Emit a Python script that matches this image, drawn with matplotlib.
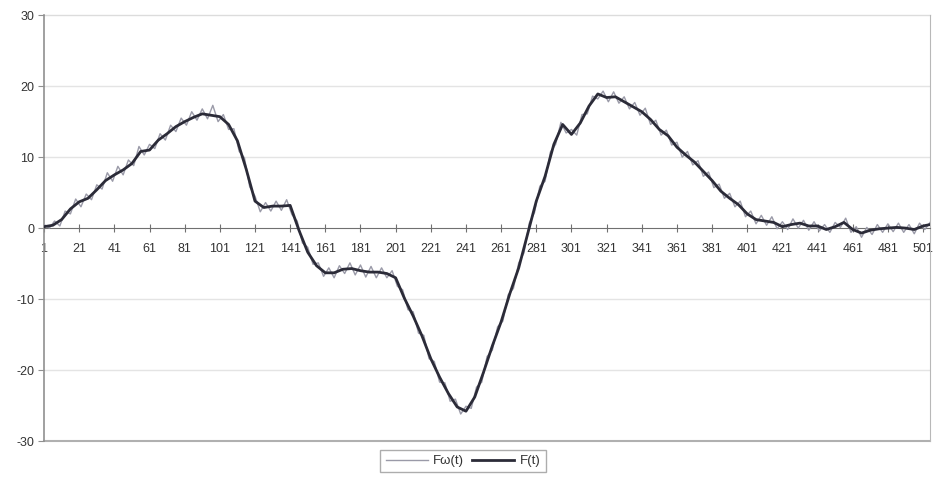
import matplotlib
matplotlib.use("Agg")
import matplotlib.pyplot as plt

# smooth signal F(t), read every 5 samples
t_f = [1, 6, 11, 16, 21, 26, 31, 36, 41, 46, 51, 56, 61, 66, 71, 76, 81, 86, 91, 96,
       101, 106, 111, 116, 121, 126, 131, 136, 141, 146, 151, 156, 161, 166, 171, 176,
       181, 186, 191, 196, 201, 206, 211, 216, 221, 226, 231, 236, 241, 246, 251, 256,
       261, 266, 271, 276, 281, 286, 291, 296, 301, 306, 311, 316, 321, 326, 331, 336,
       341, 346, 351, 356, 361, 366, 371, 376, 381, 386, 391, 396, 401, 406, 411, 416,
       421, 426, 431, 436, 441, 446, 451, 456, 461, 466, 471, 476, 481, 486, 491, 496,
       501, 505]
f_vals = [0.2, 0.4, 1.2, 2.7, 3.7, 4.2, 5.4, 6.7, 7.5, 8.2, 9.1, 10.8, 11.0, 12.4, 13.3,
          14.3, 15.0, 15.6, 16.1, 15.9, 15.7, 14.6, 12.3, 8.3, 3.8, 2.9, 3.1, 3.1, 3.2,
          -0.3, -3.4, -5.3, -6.3, -6.3, -5.8, -5.7, -6.0, -6.2, -6.2, -6.4, -7.0, -9.9,
          -12.4, -15.2, -18.4, -21.0, -23.3, -25.2, -25.8, -23.8, -20.3, -16.6, -13.2,
          -9.2, -5.6, -0.9, 3.8, 7.3, 11.8, 14.6, 13.2, 14.8, 17.2, 18.9, 18.4, 18.5,
          17.8, 17.1, 16.4, 15.3, 13.9, 13.0, 11.4, 10.3, 9.3, 8.0, 6.7, 5.2, 4.2, 3.3,
          2.0, 1.2, 1.0, 0.8, 0.2, 0.5, 0.7, 0.3, 0.3, -0.2, 0.2, 0.8, -0.2, -0.7, -0.3,
          -0.1, 0.0, 0.1, 0.0, -0.2, 0.3, 0.5]

# noisy signal Fw(t), read every 3 samples
t_fw = list(range(1, 506, 3))
fw_vals = [0.5, 0.0, 1.0, 0.3, 2.4, 2.0, 4.1, 3.0, 4.8, 4.0, 6.1, 5.5, 7.8, 6.6, 8.7,
           7.5, 9.6, 8.8, 11.5, 10.3, 11.8, 11.2, 13.3, 12.4, 14.5, 13.6, 15.5, 14.5,
           16.4, 15.2, 16.8, 15.4, 17.3, 15.0, 16.0, 13.9, 14.0, 10.8, 9.9, 5.8, 4.5,
           2.3, 3.6, 2.4, 3.8, 2.5, 4.0, 1.9, 1.0, -2.1, -2.7, -5.1, -4.9, -6.8, -5.6,
           -7.0, -5.3, -6.4, -4.9, -6.6, -5.2, -6.9, -5.4, -7.0, -5.6, -7.0, -6.0, -8.2,
           -8.7, -11.5, -11.8, -14.8, -15.1, -18.4, -18.8, -21.7, -21.8, -24.4, -24.1,
           -26.2, -25.1, -25.4, -22.4, -21.7, -18.1, -17.2, -13.9, -13.1, -9.4, -8.5,
           -4.9, -3.5, 0.7, 2.2, 5.9, 6.6, 10.7, 11.8, 14.9, 13.4, 13.9, 13.1, 16.0,
           16.1, 18.6, 18.2, 19.3, 17.8, 19.2, 17.6, 18.5, 16.8, 17.7, 15.9, 16.9, 14.6,
           15.2, 13.1, 13.8, 11.7, 12.1, 10.0, 10.8, 8.9, 9.5, 7.3, 7.9, 5.7, 6.2, 4.2,
           4.9, 3.0, 3.8, 1.6, 2.4, 0.6, 1.8, 0.4, 1.6, -0.1, 0.9, -0.2, 1.3, 0.0, 1.1,
           -0.3, 0.9, -0.4, 0.5, -0.6, 0.8, 0.1, 1.4, -0.6, 0.2, -1.3, 0.1, -0.9, 0.5,
           -0.6, 0.6, -0.5, 0.7, -0.6, 0.5, -0.8, 0.7, -0.2, 0.8]

xtick_pos = list(range(1, 502, 20))
xtick_labels = [str(v) for v in xtick_pos]
ytick_pos = [-30, -20, -10, 0, 10, 20, 30]


def run_main():
    plt.rcParams['font.family'] = ['Liberation Sans', 'DejaVu Sans']
    plt.rcParams['axes.unicode_minus'] = False
    fig = plt.figure(figsize=(9.43, 4.79), dpi=100)
    ax = fig.add_axes([0.0467, 0.0793, 0.9396, 0.889])

    ax.plot(t_fw, fw_vals, color='#9a9aa8', lw=1.0, label='Fω(t)', zorder=3)
    ax.plot(t_f, f_vals, color='#2b2b38', lw=2.0, label='F(t)', zorder=4)

    ax.set_xlim(1, 505)
    ax.set_ylim(-30, 30)

    # light grid, as in the spreadsheet chart
    for y in [-20, -10, 10, 20]:
        ax.axhline(y, color='#e4e4e4', lw=1.0, zorder=1)
    ax.axhline(30, color='#dcdcdc', lw=1.0, zorder=1, clip_on=False)
    ax.axhline(-30, color='#b0b0b0', lw=1.5, zorder=1, clip_on=False)

    # category axis crosses at zero
    ax.spines['bottom'].set_position(('data', 0))
    ax.spines['bottom'].set_color('#707070')
    ax.spines['top'].set_visible(False)
    ax.spines['left'].set_color('#909090')
    ax.spines['left'].set_linewidth(1.2)
    ax.spines['right'].set_color('#b8b8b8')

    ax.set_xticks(xtick_pos)
    ax.set_xticklabels(xtick_labels)
    ax.tick_params(axis='x', direction='inout', length=6, width=0.8,
                   colors='#707070', labelcolor='#333333', labelsize=9, pad=8)
    ax.set_yticks(ytick_pos)
    ax.tick_params(axis='y', direction='out', length=4, width=0.8,
                   colors='#909090', labelcolor='#333333', labelsize=9, pad=3)

    leg = fig.legend(loc='lower center', bbox_to_anchor=(0.491, 0.0), ncol=2,
                     fontsize=9.5, frameon=True, fancybox=False, handlelength=3.2,
                     handletextpad=0.4, columnspacing=0.6, borderpad=0.4)
    leg.get_frame().set_edgecolor('#999999')
    leg.get_frame().set_linewidth(1.0)
    for txt in leg.get_texts():
        txt.set_color('#333333')

    fig.savefig('out.png', dpi=100)


if __name__ == "__main__":
    run_main()
